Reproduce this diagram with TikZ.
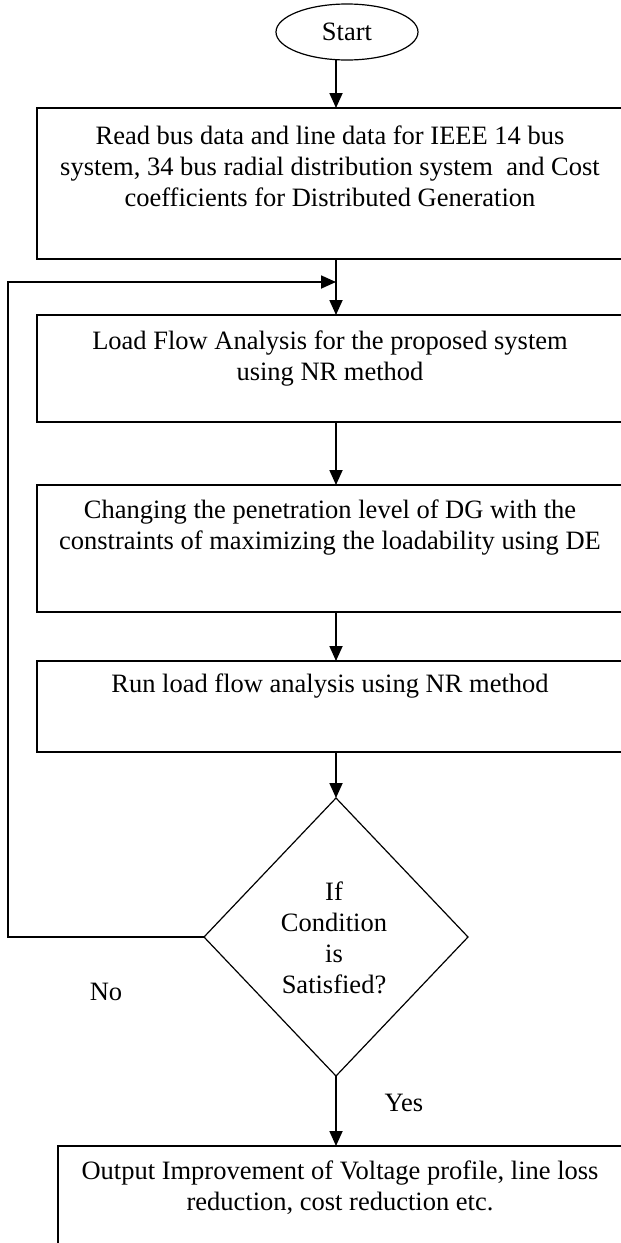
\documentclass[tikz,border=0pt]{standalone}
\usepackage{fontspec}
\setmainfont{Liberation Serif}
\usetikzlibrary{arrows.meta,shapes.geometric}
\begin{document}
\begin{tikzpicture}[x=1pt,y=-1pt,
  every node/.style={inner sep=0pt,outer sep=0pt},
  boxshape/.style={draw,line width=1.3pt,rectangle,anchor=north west},
  txt/.style={align=center,font=\fontsize{26.5}{31}\selectfont},
  arr/.style={line width=1.8pt,-{Triangle[length=15pt,width=13pt]}}]
\useasboundingbox (0,0) rectangle (621,1243);
\coordinate (mx) at (336,0);
% start
\node[draw,ellipse,line width=1.2pt,minimum width=142pt,minimum height=56pt] (start) at (347,32) {};
\node[txt] (starttxt) at (347,32) {Start};
% boxes
\node[boxshape,minimum width=587pt,minimum height=151pt] (b1) at (37,108) {};
\node[txt] (t1) at (330,166) {Read bus data and line data for IEEE 14 bus\\system, 34 bus radial distribution system\ \ and Cost\\coefficients for Distributed Generation};
\node[boxshape,minimum width=587pt,minimum height=107pt] (b2) at (37,315) {};
\node[txt] (t2) at (330,358.5) {Load Flow Analysis for the proposed system\\using NR method};
\node[boxshape,minimum width=587pt,minimum height=127pt] (b3) at (37,485) {};
\node[txt] (t3) at (330,527.5) {Changing the penetration level of DG with the\\constraints of maximizing the loadability using DE};
\node[boxshape,minimum width=587pt,minimum height=91pt] (b4) at (37,661) {};
\node[txt] (t4) at (330,686) {Run load flow analysis using NR method};
% decision
\node[draw,diamond,line width=1.2pt,minimum width=264pt,minimum height=278pt] (d) at (336,937) {};
\node[txt] (dt) at (334,937.5) {If\\Condition\\is\\Satisfied?};
% output
\node[boxshape,minimum width=566pt,minimum height=130pt] (b5) at (58,1146) {};
\node[txt] (t5) at (340,1187.5) {Output Improvement of Voltage profile, line loss\\reduction, cost reduction etc.};
% labels
\node[txt] (no) at (106,992) {No};
\node[txt] (yes) at (404,1103) {Yes};
% connectors
\draw[arr] (start.south -| mx) -- (b1.north -| mx);
\draw[arr] (b1.south -| mx) -- (b2.north -| mx);
\draw[arr] (b2.south -| mx) -- (b3.north -| mx);
\draw[arr] (b3.south -| mx) -- (b4.north -| mx);
\draw[arr] (b4.south -| mx) -- (d.north);
\draw[arr] (d.south) -- (b5.north -| d.south);
\coordinate (fbt) at (8,282);
\draw[arr] (d.west) -| (fbt) -- (fbt -| mx);
\end{tikzpicture}
\end{document}
